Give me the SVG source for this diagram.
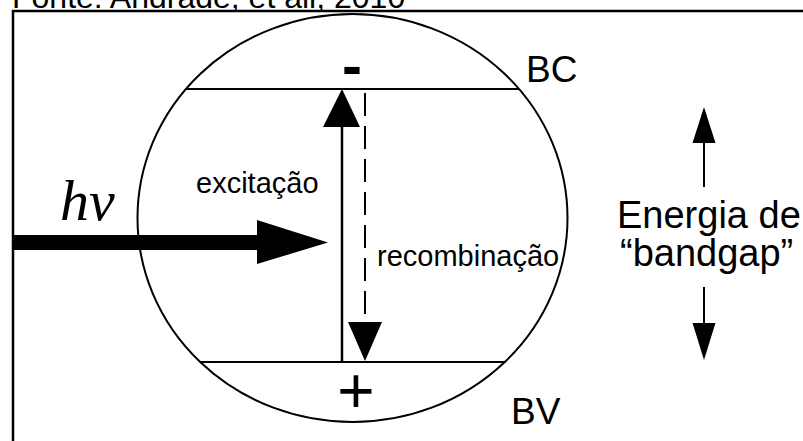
<svg xmlns="http://www.w3.org/2000/svg" width="803" height="441" viewBox="0 0 803 441">
<style>
  .s{font-family:"Liberation Sans",Arial,sans-serif;fill:#000}
  .ln{stroke:#000;fill:none}
  .hd{fill:#000;stroke:none}
</style>
<rect x="0" y="0" width="803" height="441" fill="#fff"/>
<g id="title">
  <text class="s" x="12" y="8" font-size="32">Fonte: Andrade, et all, 2010</text>
</g>
<g id="frame">
  <path class="ln" d="M13,441 V11 H803" stroke-width="2.5"/>
</g>
<g id="particle">
  <ellipse class="ln" cx="352.5" cy="218" rx="215" ry="204" stroke-width="2"/>
</g>
<g id="band-bc">
  <line class="ln" x1="186" y1="89" x2="519" y2="89" stroke-width="2"/>
  <text class="s" x="526" y="82" font-size="37">BC</text>
  <text class="s" x="352" y="86" font-size="60" font-weight="bold" text-anchor="middle">-</text>
</g>
<g id="band-bv">
  <line class="ln" x1="200" y1="362" x2="506" y2="362" stroke-width="2"/>
  <text class="s" x="511" y="424" font-size="37">BV</text>
  <text class="s" x="356" y="413" font-size="64" text-anchor="middle">+</text>
</g>
<g id="photon">
  <text x="60" y="220" font-family="'Liberation Serif','Times New Roman',serif" font-style="italic" font-size="58">hv</text>
</g>
<g id="labels">
  <text class="s" x="196" y="193" font-size="29">excitação</text>
  <text class="s" x="377" y="266" font-size="29">recombinação</text>
</g>
<g id="bandgap-label">
  <text class="s" x="617" y="228" font-size="38">Energia de</text>
  <text class="s" x="620" y="266" font-size="38">“bandgap”</text>
</g>
<g id="connectors">
  <polygon class="hd" points="14,235 257,235 257,220 328,242.5 257,264 257,250 14,250"/>
  <line class="ln" x1="342" y1="362" x2="342" y2="125" stroke-width="2.5"/>
  <polygon class="hd" points="342,89 323,127 360,127"/>
  <line class="ln" x1="365" y1="93" x2="365" y2="324" stroke-width="2" stroke-dasharray="23 10"/>
  <polygon class="hd" points="348,322 382,322 365,361"/>
  <line class="ln" x1="704" y1="187" x2="704" y2="141" stroke-width="2"/>
  <polygon class="hd" points="704,107 692.5,143 715.5,143"/>
  <line class="ln" x1="704" y1="287" x2="704" y2="325" stroke-width="2"/>
  <polygon class="hd" points="692.5,323 715.5,323 704,360"/>
</g>
</svg>
